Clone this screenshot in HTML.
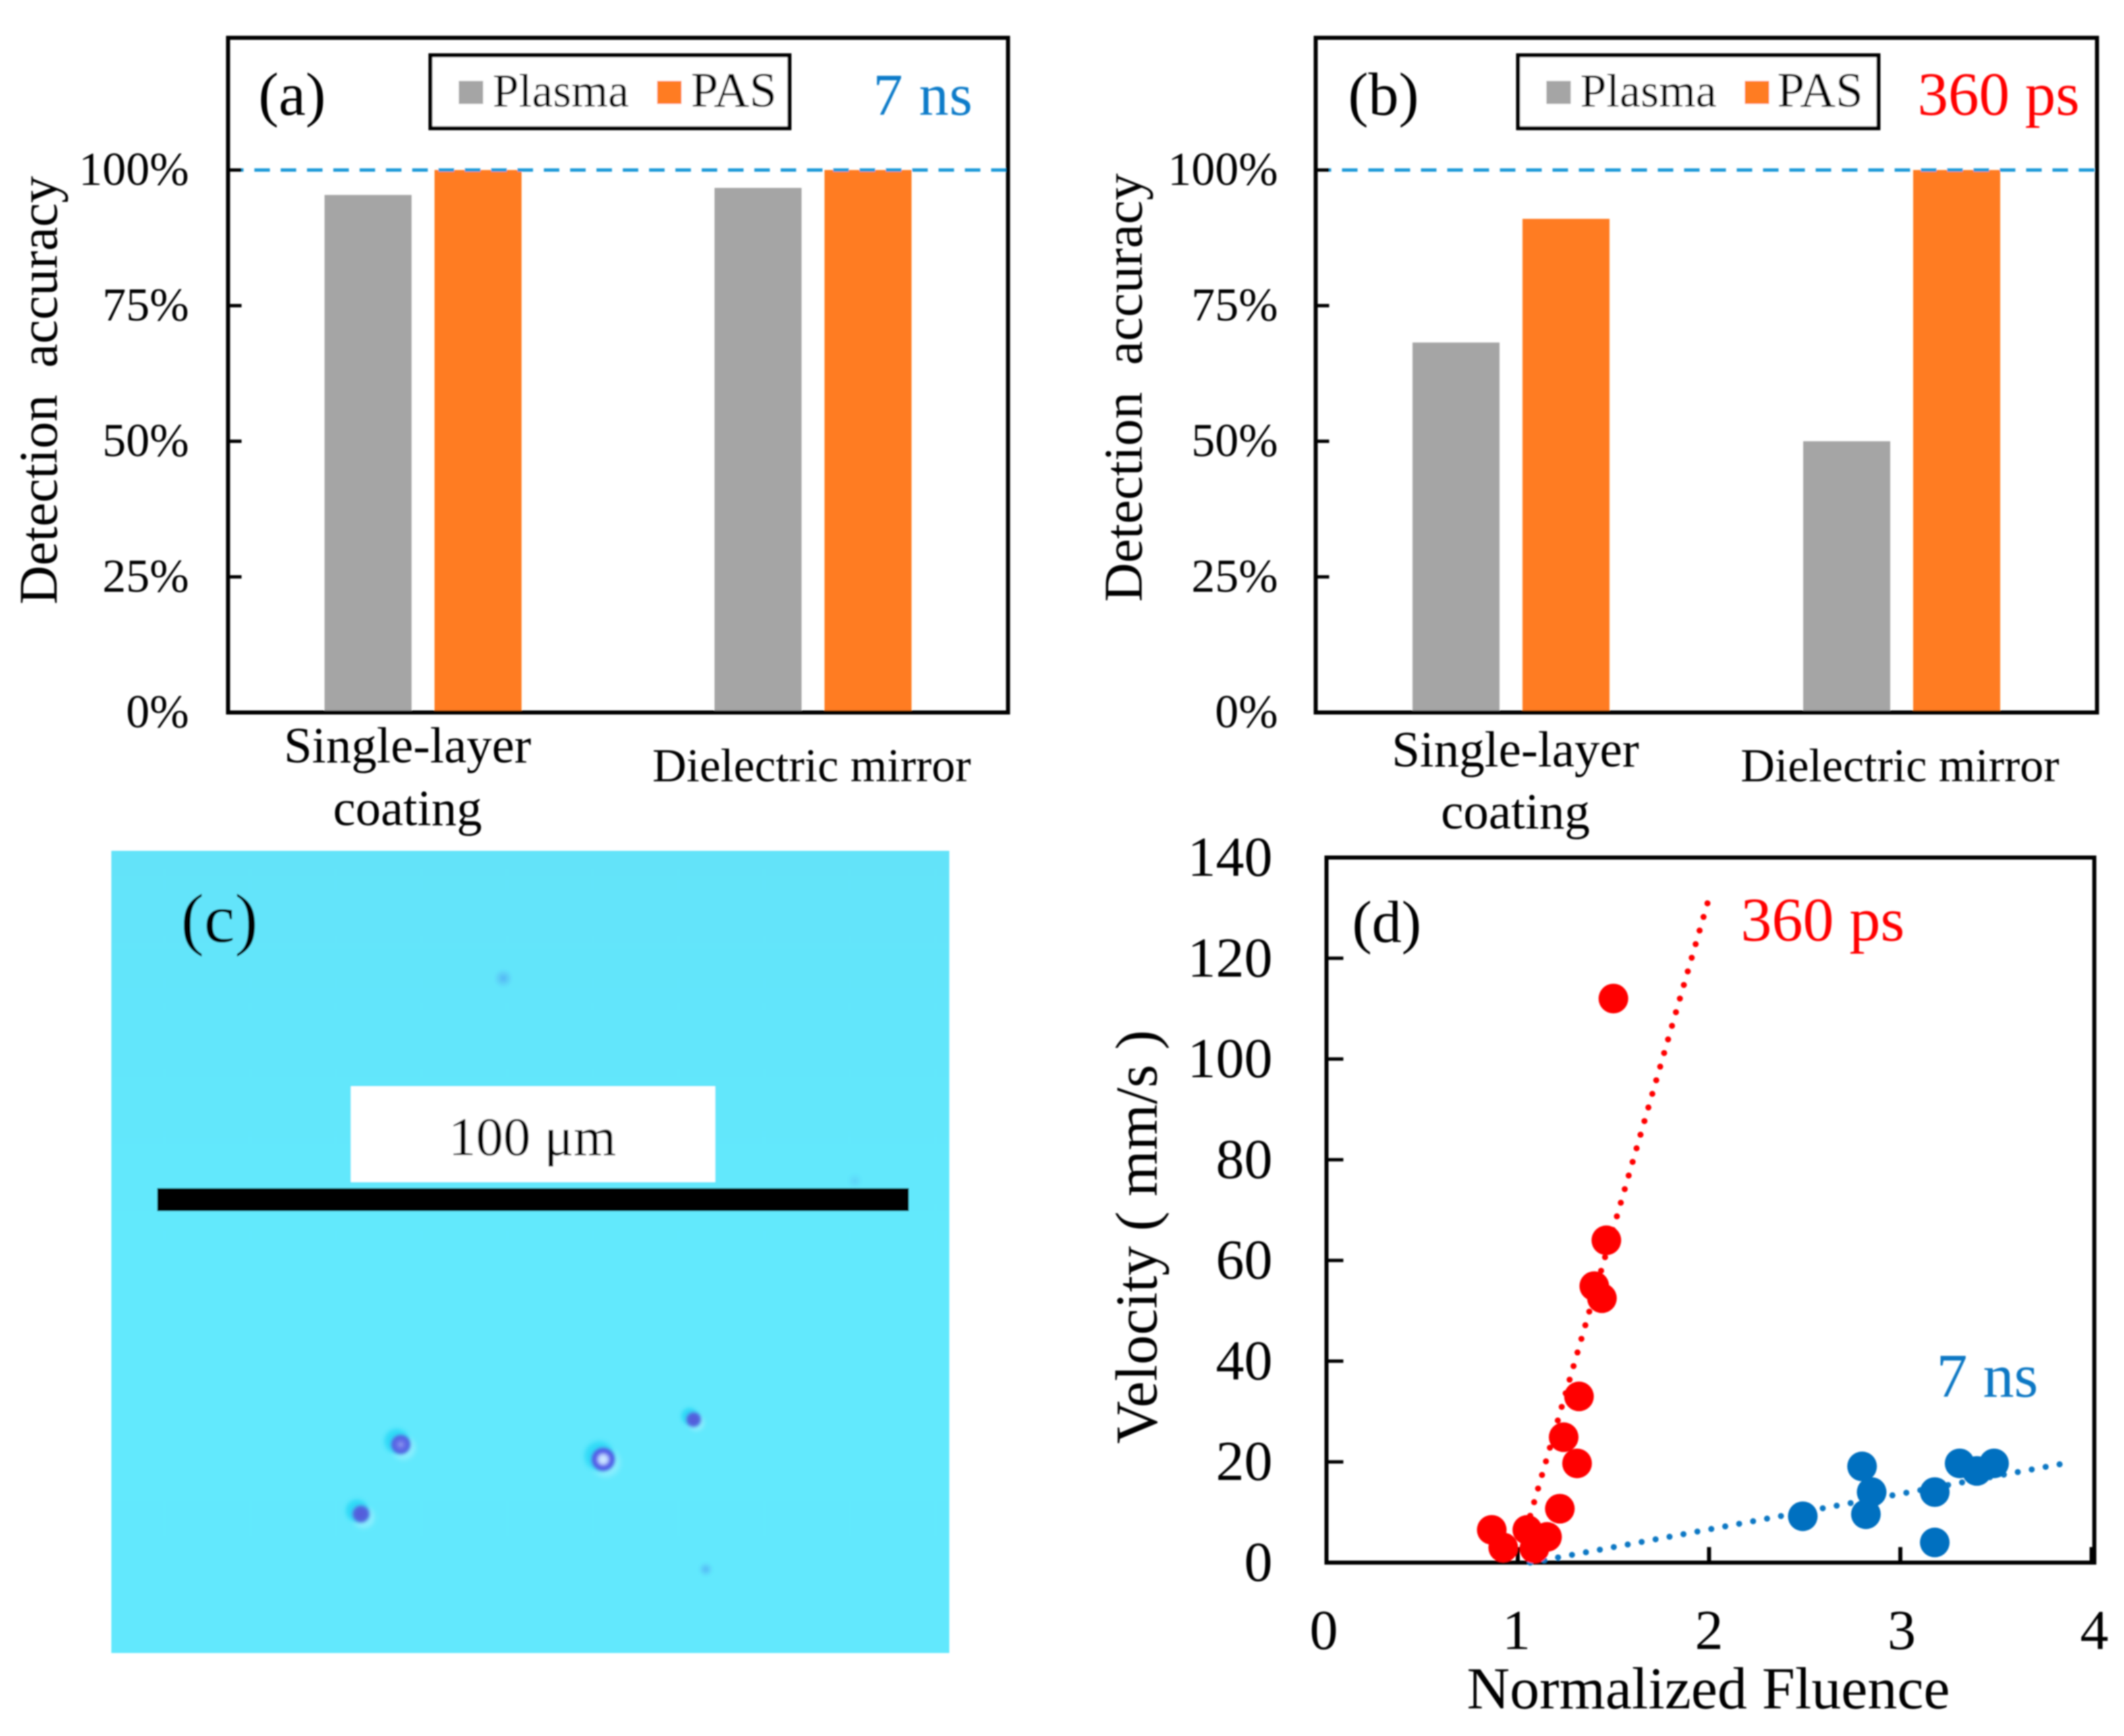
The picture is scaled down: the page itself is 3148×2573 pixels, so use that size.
<!DOCTYPE html>
<html lang="en">
<head>
<meta charset="utf-8">
<title>Detection accuracy and velocity figure</title>
<style>
  html, body { margin: 0; padding: 0; background: #fff; }
  svg { display: block; }
  text { font-family: "Liberation Serif", "DejaVu Serif", serif; fill: #000; }
</style>
</head>
<body>
<svg id="fig" xmlns="http://www.w3.org/2000/svg" width="3148" height="2573" viewBox="0 0 3148 2573">
  <defs>
    <filter id="soft" x="-5%" y="-5%" width="110%" height="110%"><feGaussianBlur stdDeviation="1"/></filter>
    <filter id="softer" x="-40%" y="-40%" width="180%" height="180%"><feGaussianBlur stdDeviation="2"/></filter>
    <linearGradient id="microBg" x1="0" y1="0" x2="0" y2="1"><stop offset="0" stop-color="#63e3f9"/><stop offset="0.5" stop-color="#62e9fd"/><stop offset="1" stop-color="#62e8fd"/></linearGradient>
    <radialGradient id="spotRing"><stop offset="0" stop-color="#d8f4ff"/><stop offset="0.35" stop-color="#b8d0ff"/><stop offset="0.55" stop-color="#5a5fe8"/><stop offset="0.88" stop-color="#4a62e4"/><stop offset="1" stop-color="#4a80ee" stop-opacity="0"/></radialGradient>
    <radialGradient id="spotMid"><stop offset="0" stop-color="#9aa8f0"/><stop offset="0.3" stop-color="#6a70e8"/><stop offset="0.85" stop-color="#4a62e0"/><stop offset="1" stop-color="#4a80ee" stop-opacity="0"/></radialGradient>
    <radialGradient id="spotSolid"><stop offset="0" stop-color="#5558d8"/><stop offset="0.75" stop-color="#5068e0"/><stop offset="1" stop-color="#4a90ee" stop-opacity="0"/></radialGradient>
    <radialGradient id="spotFaint"><stop offset="0" stop-color="#4a8fee" stop-opacity="0.6"/><stop offset="1" stop-color="#4aa0ee" stop-opacity="0"/></radialGradient>
    <radialGradient id="spotFainter"><stop offset="0" stop-color="#4a9fee" stop-opacity="0.3"/><stop offset="1" stop-color="#4aa0ee" stop-opacity="0"/></radialGradient>
    <radialGradient id="spotHalo"><stop offset="0" stop-color="#22d6f6"/><stop offset="0.7" stop-color="#28d8f6" stop-opacity="0.8"/><stop offset="1" stop-color="#30dcf8" stop-opacity="0"/></radialGradient>
    <radialGradient id="spotGlow"><stop offset="0.6" stop-color="#a4f2ff" stop-opacity="0.6"/><stop offset="1" stop-color="#a4f2ff" stop-opacity="0"/></radialGradient>
  </defs>
  <rect width="3148" height="2573" fill="#fff"/>
  <g id="root" filter="url(#soft)">

    <!-- Panel a -->
    <g id="panelA"></g>
    <text x="383" y="170" font-size="90">(a)</text>
    <text x="1294" y="170" font-size="88" letter-spacing="1" style="fill:#0a7cc9">7 ns</text>
    <text transform="translate(84,896) rotate(-90)" font-size="80" xml:space="preserve">Detection  accuracy</text>
    <text x="604" y="1130" font-size="75" text-anchor="middle">Single-layer</text>
    <text x="604" y="1223" font-size="75" text-anchor="middle">coating</text>
    <text x="1203" y="1158" font-size="70" text-anchor="middle">Dielectric mirror</text>
    <g>
      <rect x="638" y="82" width="532" height="108" fill="#fff" stroke="#000" stroke-width="6"/>
      <rect x="680" y="120" width="36" height="34" fill="#a5a5a5"/>
      <text x="730" y="158" font-size="70">Plasma</text>
      <rect x="974" y="120" width="36" height="34" fill="#ff7c24"/>
      <text x="1024" y="158" font-size="73">PAS</text>
    </g>

    <!-- Panel b -->
    <g id="panelB"></g>
    <text x="1998" y="170" font-size="90">(b)</text>
    <text x="2842" y="170" font-size="91" style="fill:#ff0000">360 ps</text>
    <text transform="translate(1692,892) rotate(-90)" font-size="80" xml:space="preserve">Detection  accuracy</text>
    <text x="2246" y="1136" font-size="75" text-anchor="middle">Single-layer</text>
    <text x="2246" y="1228" font-size="75" text-anchor="middle">coating</text>
    <text x="2816" y="1158" font-size="70" text-anchor="middle">Dielectric mirror</text>
    <g>
      <rect x="2250" y="82" width="534" height="108" fill="#fff" stroke="#000" stroke-width="6"/>
      <rect x="2292" y="120" width="36" height="34" fill="#a5a5a5"/>
      <text x="2342" y="158" font-size="70">Plasma</text>
      <rect x="2586" y="120" width="36" height="34" fill="#ff7c24"/>
      <text x="2634" y="158" font-size="73">PAS</text>
    </g>

    <!-- Panel c -->
    <g>
      <rect x="165" y="1261" width="1242" height="1189" fill="url(#microBg)"/>
      <g id="spots" filter="url(#softer)"></g>
      <rect x="520" y="1610" width="540" height="142" fill="#fff"/>
      <text x="789" y="1712" font-size="81" text-anchor="middle">100 μm</text>
      <rect x="233" y="1761" width="1114" height="34" fill="#000"/>
      <text x="268" y="1396" font-size="103">(c)</text>
    </g>

    <!-- Panel d -->
    <g id="panelD"></g>
    <text x="2004" y="1396" font-size="88">(d)</text>
    <text x="2580" y="1394" font-size="92" style="fill:#ff0000">360 ps</text>
    <text x="2870" y="2070" font-size="92" style="fill:#0a78c4">7 ns</text>
    <text transform="translate(1714,2140) rotate(-90)" font-size="88" xml:space="preserve">Velocity ( mm/s )</text>
    <text x="2532" y="2532" font-size="88" text-anchor="middle">Normalized Fluence</text>
  </g>
</svg>

<script>
// ---- Data for bar panels (a) and (b) ----
var barCategories = ['Single-layer coating', 'Dielectric mirror'];
var plasma7ns = [95.4, 96.7];
var pas7ns = [100, 100];
var plasma360ps = [68.2, 50];
var pas360ps = [91, 100];
var percentTicks = [0, 25, 50, 75, 100];

// ---- Data for velocity panel (d) ----
var redFluence = [0.864, 0.924, 1.05, 1.087, 1.153, 1.22, 1.31, 1.24, 1.32, 1.44, 1.40, 1.463, 1.50];
var redVelocity = [6.5, 3, 6.5, 2.8, 5.1, 10.7, 19.7, 24.9, 33, 52.5, 54.9, 64, 112];
var blueFluence = [2.49, 2.80, 2.85, 2.82, 3.18, 3.18, 3.31, 3.40, 3.49];
var blueVelocity = [9.2, 19.1, 14, 9.6, 14, 4, 19.7, 18.2, 19.7];
var redTrendFluence = [1.065, 2.0];
var redTrendVelocity = [9.3, 132];
var blueTrendFluence = [1.065, 3.9];
var blueTrendVelocity = [0, 20];
var fluenceTicks = [0, 1, 2, 3, 4];
var velocityTicks = [0, 20, 40, 60, 80, 100, 120, 140];

var NS = 'http://www.w3.org/2000/svg';
function make(tag, parent, attrs) {
  var e = document.createElementNS(NS, tag);
  for (var k in attrs) e.setAttribute(k, attrs[k]);
  parent.appendChild(e);
  return e;
}

function drawBars(parent, box, plasma, pas, tickRight) {
  function yScale(v) { return box.bottom - (v / 100) * box.span; }
  var band = (box.right - box.left) / barCategories.length;
  var barW = 129, gap = 34;

  barCategories.forEach(function (c, i) {
    var center = box.left + band * (i + 0.5) + box.shift;
    var r1 = make('rect', parent, { x: center - gap / 2 - barW, y: yScale(plasma[i]), width: barW, height: box.bottom - yScale(plasma[i]), fill: '#a5a5a5' });
    
    
    var r2 = make('rect', parent, { x: center + gap / 2, y: yScale(pas[i]), width: barW, height: box.bottom - yScale(pas[i]), fill: '#ff7c24' });
    
    
  });

  var ref = make('line', parent, { x1: box.left, x2: box.right, y1: yScale(100), y2: yScale(100), stroke: '#1a9ad9', 'stroke-width': 5, 'stroke-dasharray': '23 16' });
  
  

  percentTicks.forEach(function (t) {
    var tk = make('line', parent, { x1: box.left, x2: box.left + 20, y1: yScale(t), y2: yScale(t), stroke: '#000', 'stroke-width': 5 });
    
    
    var lb = make('text', parent, { x: tickRight, y: yScale(t) + 22, 'font-size': 70, 'text-anchor': 'end' });
    
    
    lb.textContent = t + '%';
  });

  var fr = make('rect', parent, { x: box.left, y: box.top, width: box.right - box.left, height: box.bottom - box.top, fill: 'none', stroke: '#000', 'stroke-width': 6 });
  
  
}

drawBars(document.getElementById('panelA'),
  { left: 338, right: 1494, top: 56, bottom: 1056, span: 804, shift: 0 }, plasma7ns, pas7ns, 280);
drawBars(document.getElementById('panelB'),
  { left: 1950, right: 3108, top: 56, bottom: 1056, span: 804, shift: 0 }, plasma360ps, pas360ps, 1894);

// ---- Panel d ----
(function () {
  var g = document.getElementById('panelD');
  var L = 1966, R = 3100, T = 1271, B = 2316;
  function xs(v) { return L + (v / 4) * (R - L); }
  function ys(v) { return B - (v / 140) * (B - T); }
  function xLabel(v) { return 1962 + v * 285.5; }

  var fr = make('rect', g, { x: L, y: T, width: R + 4 - L, height: B - T, fill: 'none', stroke: '#000', 'stroke-width': 6 });
  
  

  velocityTicks.forEach(function (t) {
    var tk = make('line', g, { x1: L, x2: L + 25, y1: ys(t), y2: ys(t), stroke: '#000', 'stroke-width': 5 });
    
    
    var lb = make('text', g, { x: 1886, y: ys(t) + 27, 'font-size': 84, 'text-anchor': 'end' });
    
    
    lb.textContent = t;
  });
  fluenceTicks.forEach(function (t) {
    var tk = make('line', g, { x1: xs(t), x2: xs(t), y1: B, y2: B - 23, stroke: '#000', 'stroke-width': 6 });
    
    
    var lb = make('text', g, { x: xLabel(t), y: 2444, 'font-size': 84, 'text-anchor': 'middle' });
    
    
    lb.textContent = t;
  });

  var t1 = make('line', g, { x1: xs(redTrendFluence[0]), y1: ys(redTrendVelocity[0]), x2: xs(redTrendFluence[1]), y2: ys(redTrendVelocity[1]), stroke: '#ff0000', 'stroke-width': 9, 'stroke-linecap': 'round', 'stroke-dasharray': '0 21' });
  
  
  var t2 = make('line', g, { x1: xs(blueTrendFluence[0]), y1: ys(blueTrendVelocity[0]), x2: xs(blueTrendFluence[1]), y2: ys(blueTrendVelocity[1]), stroke: '#0a78c4', 'stroke-width': 9, 'stroke-linecap': 'round', 'stroke-dasharray': '0 21' });
  
  

  redFluence.forEach(function (f, i) {
    var c = make('circle', g, { cx: xs(f), cy: ys(redVelocity[i]), r: 22, fill: '#ff0000' });
    
    
  });
  blueFluence.forEach(function (f, i) {
    var c = make('circle', g, { cx: xs(f), cy: ys(blueVelocity[i]), r: 22, fill: '#0070c0' });
    
    
  });
})();

// ---- Panel c: spots visible in the micrograph ----
(function () {
  var g = document.getElementById('spots');
  var spots = [
    { x: 746, y: 1450, r: 14, halo: 0, fill: 'url(#spotFaint)' },
    { x: 1267, y: 1750, r: 11, halo: 0, fill: 'url(#spotFainter)' },
    { x: 594, y: 2141, r: 16, halo: 22, fill: 'url(#spotMid)' },
    { x: 894, y: 2163, r: 19, halo: 26, fill: 'url(#spotRing)' },
    { x: 1028, y: 2104, r: 13, halo: 15, fill: 'url(#spotSolid)' },
    { x: 535, y: 2244, r: 15, halo: 20, fill: 'url(#spotSolid)' },
    { x: 1046, y: 2326, r: 11, halo: 0, fill: 'url(#spotFaint)' }
  ];
  spots.forEach(function (s) {
    if (s.halo) {
      var gl = make('circle', g, { cx: s.x + 4, cy: s.y + 5, r: s.halo, fill: 'url(#spotGlow)' });
      
      
      var h = make('circle', g, { cx: s.x - 6, cy: s.y - 5, r: s.halo, fill: 'url(#spotHalo)' });
      
      
    }
    var c = make('circle', g, { cx: s.x, cy: s.y, r: s.r, fill: s.fill });
    
    
  });
})();
</script>
</body>
</html>
